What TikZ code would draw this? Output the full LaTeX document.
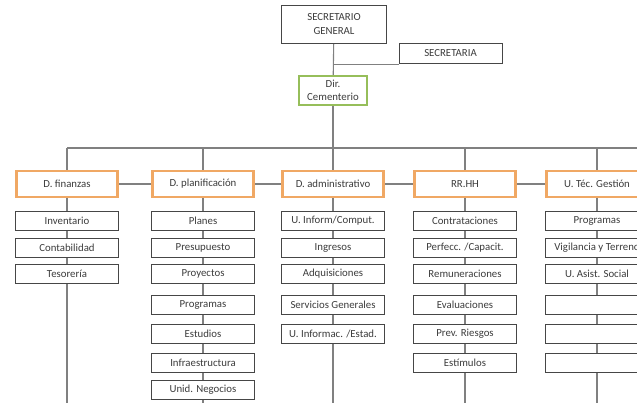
\documentclass[tikz,border=0pt]{standalone}
\usepackage{fontspec}
\setmainfont{Carlito}
\usetikzlibrary{backgrounds}
\definecolor{linec}{RGB}{128,128,128}
\definecolor{boxc}{RGB}{70,70,70}
\definecolor{txtc}{RGB}{60,60,60}
\definecolor{orangec}{RGB}{240,168,100}
\definecolor{greenc}{RGB}{150,190,90}
\tikzset{
  base/.style={draw=boxc, line width=0.8pt, fill=white, inner sep=0pt, align=center,
    text=txtc, font=\fontsize{10.8}{12.5}\selectfont},
  sub/.style={base, minimum width=103pt, minimum height=19pt},
  head/.style={base, draw=orangec, line width=2.2pt, minimum width=101pt, minimum height=26pt},
  dir/.style={base, draw=greenc, line width=2.2pt, minimum width=68pt, minimum height=29pt},
  conn/.style={draw=linec, line width=1.1pt},
}
\begin{document}
\begin{tikzpicture}[x=1pt,y=-1pt]
\useasboundingbox[clip] (0,0) rectangle (637,403);
% top
\node[base, minimum width=105pt, minimum height=38pt] (SG) at (334,24) {SECRETARIO\\[1pt]GENERAL};
\node[base, minimum width=103pt, minimum height=20pt] (SEC) at (450.5,53) {SECRETARIA};
\node[dir] (DC) at (333,90.5) {Dir.\\[1pt]Cementerio};
% headers
\node[head] (H1) at (67,184) {D. finanzas};
\node[head] (H2) at (203,184) {D. planificación};
\node[head] (H3) at (333,184) {D. administrativo};
\node[head] (H4) at (465,184) {RR.HH};
\node[head] (H5) at (597,184) {U. Téc. Gestión};
% column 1
\node[sub] (A1) at (67,220.5) {Inventario};
\node[sub] (A2) at (67,247.5) {Contabilidad};
\node[sub] (A3) at (67,273.5) {Tesorería};
% column 2
\node[sub] (B1) at (203,220.5) {Planes};
\node[sub] (B2) at (203,247.5) {Presupuesto};
\node[sub] (B3) at (203,273.5) {Proyectos};
\node[sub] (B4) at (203,305) {Programas};
\node[sub] (B5) at (203,334) {Estudios};
\node[sub] (B6) at (203,362.5) {Infraestructura};
\node[sub] (B7) at (203,390) {Unid. Negocios};
% column 3
\node[sub] (C1) at (333,220.5) {U. Inform/Comput.};
\node[sub] (C2) at (333,247.5) {Ingresos};
\node[sub] (C3) at (333,273.5) {Adquisiciones};
\node[sub] (C4) at (333,305) {Servicios Generales};
\node[sub] (C5) at (333,334) {U. Informac. /Estad.};
% column 4
\node[sub] (D1) at (465,220.5) {Contrataciones};
\node[sub] (D2) at (465,247.5) {Perfecc. /Capacit.};
\node[sub] (D3) at (465,273.5) {Remuneraciones};
\node[sub] (D4) at (465,305) {Evaluaciones};
\node[sub] (D5) at (465,334) {Prev. Riesgos};
\node[sub] (D6) at (465,362.5) {Estímulos};
% column 5
\node[sub] (E1) at (597,220.5) {Programas};
\node[sub] (E2) at (597,247.5) {Vigilancia y Terreno};
\node[sub] (E3) at (597,273.5) {U. Asist. Social};
\node[sub] (E4) at (597,305) {};
\node[sub] (E5) at (597,334) {};
\node[sub] (E6) at (597,362.5) {};
% free ends
\coordinate (bar) at (333,148);
\coordinate (barR) at (660,148);
\coordinate (midR) at (660,184);
\coordinate (b1) at (67,410);
\coordinate (b2) at (203,410);
\coordinate (b3) at (333,410);
\coordinate (b4) at (465,410);
\coordinate (b5) at (597,410);
\begin{pgfonlayer}{background}
\draw[conn] (SG) -- (DC);
\draw[conn] ([yshift=-1pt]SEC.south west) -- ([yshift=-1pt]SEC.south west -| DC.north);
\draw[conn] (DC) -- (bar);
\draw[conn] (H1.north |- bar) -- (barR);
\foreach \h in {H1,H2,H3,H4,H5} \draw[conn] (\h.north |- bar) -- (\h);
\draw[conn] (H1) -- (midR);
\draw[conn] (H1) -- (b1);
\draw[conn] (H2) -- (b2);
\draw[conn] (H3) -- (b3);
\draw[conn] (H4) -- (b4);
\draw[conn] (H5) -- (b5);
\end{pgfonlayer}
\end{tikzpicture}
\end{document}
